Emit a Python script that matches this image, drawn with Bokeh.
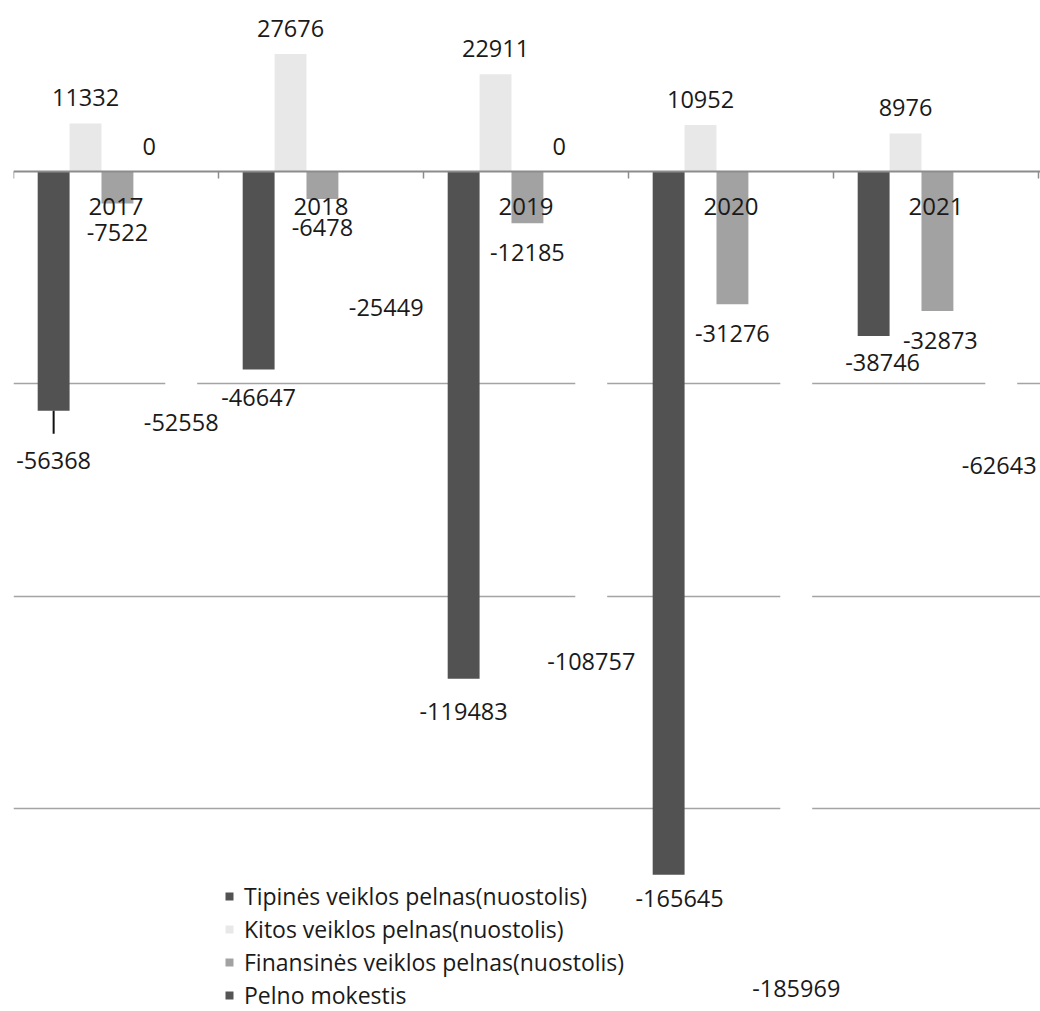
import numpy as np
from bokeh.plotting import figure
from bokeh.models import (ColumnDataSource, FixedTicker, Range1d, Legend, LegendItem,
                          LinearAxis, Grid)
from bokeh.transform import dodge
from bokeh.core.properties import value
from bokeh.embed import file_html
from bokeh.resources import INLINE

# ---------------- data ----------------
years = ["2017", "2018", "2019", "2020", "2021"]
tipines = [-56368, -46647, -119483, -165645, -38746]
kitos = [11332, 27676, 22911, 10952, 8976]
finansines = [-7522, -6478, -12185, -31276, -32873]
pelno_mokestis = [0, None, 0, None, None]
grynasis = [-52558, -25449, -108757, -185969, -62643]

series_names = [
    "Tipinės veiklos pelnas(nuostolis)",
    "Kitos veiklos pelnas(nuostolis)",
    "Finansinės veiklos pelnas(nuostolis)",
    "Pelno mokestis",
    "Grynasis pelnas(nuostolis)",
]
grid_values = [-50000, -100000, -150000, -200000]

# ---------------- layout ----------------
W, H = 1040, 1011
LEFT = 13
CAT_PX = 205.0
ZERO_PX = 171.0          # zero line, px from top of canvas
PX_PER_UNIT = 4.245 / 1000.0
FONT = "Open Sans"

x_range = Range1d(-0.5, -0.5 + (W - LEFT) / CAT_PX)
y_range = Range1d(-(H - ZERO_PX) / PX_PER_UNIT, ZERO_PX / PX_PER_UNIT)

p = figure(width=W, height=H, x_range=x_range, y_range=y_range,
           output_backend="svg", toolbar_location=None,
           x_axis_location=None, y_axis_location=None,
           min_border_left=LEFT, min_border_right=0, min_border_top=0, min_border_bottom=0,
           outline_line_color=None, background_fill_color="white", border_fill_color="white")

# remove default grids
for r in list(p.center):
    if isinstance(r, Grid):
        r.visible = False

grid = Grid(dimension=1, ticker=FixedTicker(ticks=grid_values),
            grid_line_color="#a4a4a4", grid_line_width=1.5)
p.add_layout(grid)

idx = list(range(len(years)))
xaxis = LinearAxis(fixed_location=0,
                   ticker=FixedTicker(ticks=idx, minor_ticks=[i - 0.5 for i in range(len(years) + 1)]),
                   major_label_overrides={i: y for i, y in enumerate(years)},
                   axis_line_color="#8c8c8c", axis_line_width=2,
                   major_tick_line_color=None, major_tick_in=0, major_tick_out=0,
                   minor_tick_line_color="#8c8c8c", minor_tick_line_width=1.5,
                   minor_tick_in=0, minor_tick_out=7,
                   major_label_standoff=19,
                   major_label_text_font=FONT, major_label_text_font_size="24px",
                   major_label_text_color="#1a1a1a")
p.add_layout(xaxis, "below")

def clean(v):
    return [np.nan if a is None else a for a in v]

src = ColumnDataSource(dict(x=idx, tip=tipines, kit=kitos, fin=finansines,
                            pel=clean(pelno_mokestis), gry=grynasis))

keys = ["tip", "kit", "fin", "pel", "gry"]
colors = ["#525252", "#e8e8e8", "#a2a2a2", "#555555", "#ffffff"]
STEP = 0.1556
offsets = [0.007 + k * STEP for k in (-2, -1, 0, 1, 2)]

renderers = []
for key, col, off in zip(keys, colors, offsets):
    r = p.vbar(x=dodge("x", off, range=p.x_range), top=key, bottom=0, width=STEP,
               source=src, fill_color=col, line_color=None)
    renderers.append(r)

# leader line for the first label (moved away from bar end)
lead_x = idx[0] + offsets[0]
p.segment(x0=[lead_x], x1=[lead_x], y0=[tipines[0]], y1=[tipines[0] - 23 / PX_PER_UNIT],
          line_color="#111111", line_width=2)

# ---------------- data labels ----------------
base_off = {"tip": 28, "kit": 26, "fin": 29, "pel": 25, "gry": 28}
nudges = {("tip", 0): (0, 22), ("tip", 2): (0, 5), ("tip", 3): (11, -4), ("tip", 4): (9, -1),
          ("fin", 4): (3, 0), ("gry", 4): (-2, 0)}
series_vals = {"tip": tipines, "kit": kitos, "fin": finansines, "pel": pelno_mokestis, "gry": grynasis}

for key, off in zip(keys, offsets):
    xs, ys, txt, dx, dy = [], [], [], [], []
    for i, v in enumerate(series_vals[key]):
        if v is None:
            continue
        nx, ny = nudges.get((key, i), (0, 0))
        xs.append(i + off)
        ys.append(v)
        txt.append(str(v))
        sign = 1 if v < 0 else -1
        dx.append(nx)
        dy.append(sign * base_off[key] + ny)
    lsrc = ColumnDataSource(dict(x=xs, y=ys, t=txt, dx=dx, dy=dy))
    p.text(x="x", y="y", text="t", x_offset="dx", y_offset="dy", source=lsrc,
           text_align="center", text_baseline="middle",
           text_font=value(FONT), text_font_size="23.5px", text_color="#1a1a1a")

# ---------------- legend ----------------
items = [LegendItem(label=n, renderers=[r]) for n, r in zip(series_names[:4], renderers[:4])]
legend = Legend(items=items, location=(211, 0),
                glyph_width=10, glyph_height=10, label_standoff=10,
                label_text_font=FONT, label_text_font_size="23px", label_text_color="#1a1a1a",
                label_height=31, spacing=1, padding=0, margin=0,
                border_line_color=None, background_fill_alpha=0)
p.add_layout(legend)

open("out.html", "w").write(file_html(p, INLINE))
